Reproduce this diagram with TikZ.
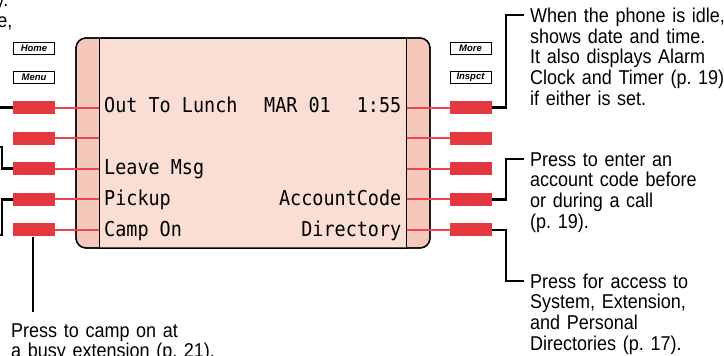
\documentclass[tikz,border=0pt]{standalone}
\usepackage{fontspec}
\newfontfamily\callfont[FakeStretch=0.9]{Liberation Sans}
\newfontfamily\lcdfont[FakeStretch=0.9]{DejaVu Sans Mono}
\newfontfamily\keyfont{Liberation Sans}
\definecolor{sidepink}{RGB}{246,199,187}
\definecolor{lcdpink}{RGB}{250,222,212}
\definecolor{btnred}{RGB}{227,56,63}
\definecolor{linered}{RGB}{234,72,80}
\begin{document}
\frenchspacing
\begin{tikzpicture}[x=1pt,y=-1pt,
  btn/.style={fill=btnred, draw=none, minimum width=42pt, minimum height=13pt, inner sep=0pt},
  keycap/.style={draw=black, line width=0.9pt, fill=white, minimum width=41pt, minimum height=12.5pt, inner sep=0pt,
    font=\keyfont\bfseries\itshape\fontsize{9.5}{10}\selectfont},
  dispframe/.style={draw=black, line width=1.3pt, fill=sidepink, rounded corners=10pt,
    minimum width=354pt, minimum height=210pt, inner sep=0pt},
  lcdpanel/.style={draw=black, line width=1pt, fill=lcdpink, minimum width=307pt, minimum height=210pt, inner sep=0pt},
  lcdtext/.style={inner sep=0pt, font=\lcdfont\fontsize{20.5}{22}\selectfont},
  redline/.style={draw=linered, line width=2pt},
  leader/.style={draw=black, line width=2.5pt},
  callout/.style={inner sep=0pt, anchor=base west, align=left, text width=230pt,
    font=\callfont\fontsize{20}{20.6}\selectfont\frenchspacing},
  cuttext/.style={inner sep=0pt, font=\callfont\fontsize{20}{20.6}\selectfont}
]
\useasboundingbox (0,0) rectangle (724,356);
\clip (0,0) rectangle (724,356);

% display
\node[dispframe] (disp) at (253,143) {};
\node[lcdpanel] (lcd) at (252.5,143) {};
\draw[line width=1.3pt, rounded corners=10pt] (76,38) rectangle (430,248);

% display texts
\node[lcdtext, anchor=base west] (d1) at (104,112.7) {Out To Lunch};
\node[lcdtext, anchor=base west] (d2) at (264,112.7) {MAR 01};
\node[lcdtext, anchor=base east] (d3) at (401.5,112.7) {1:55};
\node[lcdtext, anchor=base west] (d4) at (104,174.2) {Leave Msg};
\node[lcdtext, anchor=base west] (d5) at (104,205.5) {Pickup};
\node[lcdtext, anchor=base east] (d6) at (401.5,205.5) {AccountCode};
\node[lcdtext, anchor=base west] (d7) at (104,236.8) {Camp On};
\node[lcdtext, anchor=base east] (d8) at (401.5,236.8) {Directory};

% key caps
\node[keycap] (home) at (34,48.5) {Home};
\node[keycap] (menu) at (34,77.2) {Menu};
\node[keycap] (more) at (470.5,48.5) {More};
\node[keycap] (inspct) at (470.5,77.2) {Inspct};

% buttons
\foreach \i/\y in {1/107.5,2/138.1,3/168.7,4/199.3,5/229.9}{
  \node[btn] (L\i) at (34,\y) {};
  \node[btn] (R\i) at (471,\y) {};
  \draw[redline] (L\i.east) -- (L\i.east -| lcd.west);
  \draw[redline] (R\i.west) -- (R\i.west -| lcd.east);
}

% callout texts
\node[callout] (c1) at (530,22.7) {When the phone is idle,\\shows date and time.\\It also displays Alarm\\Clock and Timer (p. 19)\\if either is set.};
\node[callout] (c2) at (530,166.3) {Press to enter an\\account code before\\or during a call\\(p. 19).};
\node[callout] (c3) at (530,288.3) {Press for access to\\System, Extension,\\and Personal\\Directories (p. 17).};
\node[callout] (c4) at (11,337.3) {Press to camp on at\\a busy extension (p. 21).};
\node[cuttext, anchor=base east] (cA) at (8.5,6.7) {y.};
\node[cuttext, anchor=base east] (cB) at (12.5,27.3) {e,};

% leader coordinates
\coordinate (k1) at (524,15);
\coordinate (k2) at (524,159);
\coordinate (k3) at (524,281);
\coordinate (j1) at (-20,107.5);
\coordinate (j3a) at (2,147);
\coordinate (j3) at (-20,147);
\coordinate (j4a) at (2,235);
\coordinate (j4) at (-20,235);
\coordinate (j5) at (33,312);

% leaders right
\draw[leader] (R1.east) -- ++(14,0) |- (k1);
\draw[leader] (R4.east) -- ++(14,0) |- (k2);
\draw[leader] (R5.east) -- ++(14,0) |- (k3);
% leaders left
\draw[leader] (L1.west) -- (j1);
\draw[leader] (L3.west) -| (j3a) -- (j3);
\draw[leader] (L4.west) -| (j4a) -- (j4);
\draw[leader] (L5.south -| j5) -- (j5);
\end{tikzpicture}
\end{document}
